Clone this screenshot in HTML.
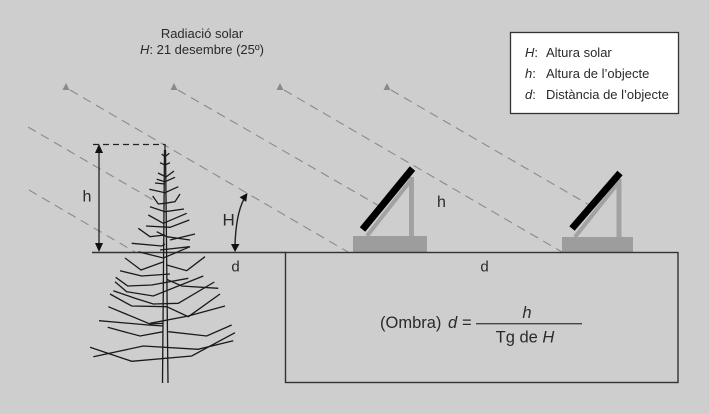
<!DOCTYPE html>
<html><head><meta charset="utf-8"><style>
html,body{margin:0;padding:0;background:#cecece;}
svg{display:block;}
text{font-family:"Liberation Sans",Arial,sans-serif;fill:#2a2a2a;}
</style></head><body>
<svg width="709" height="414" viewBox="0 0 709 414" xmlns="http://www.w3.org/2000/svg">
<rect x="0" y="0" width="709" height="414" fill="#cecece"/>

<!-- title -->
<text x="202" y="38" font-size="13" text-anchor="middle">Radiació solar</text>
<text x="202" y="54" font-size="13" text-anchor="middle"><tspan font-style="italic">H</tspan>: 21 desembre (25º)</text>

<!-- legend -->
<rect x="510.5" y="32.5" width="168" height="81" fill="#ffffff" stroke="#333" stroke-width="1.3"/>
<text x="525" y="57" font-size="13"><tspan font-style="italic">H</tspan>:</text>
<text x="546" y="57" font-size="13">Altura solar</text>
<text x="525" y="78" font-size="13"><tspan font-style="italic">h</tspan>:</text>
<text x="546" y="78" font-size="13">Altura de l’objecte</text>
<text x="525" y="99" font-size="13"><tspan font-style="italic">d</tspan>:</text>
<text x="546" y="99" font-size="13">Distància de l’objecte</text>

<!-- sun rays -->
<g fill="#8a8a8a">
<polygon points="66,83 62.5,90 69.5,90"/>
<polygon points="174,83 170.5,90 177.5,90"/>
<polygon points="280,83 276.5,90 283.5,90"/>
<polygon points="387,83 383.5,90 390.5,90"/>
</g>
<g stroke="#8a8a8a" stroke-width="1.1" stroke-dasharray="9 6" fill="none">
<line x1="70" y1="90" x2="348" y2="252"/>
<line x1="178" y1="90" x2="381" y2="207"/>
<line x1="284" y1="90" x2="562" y2="252"/>
<line x1="391" y1="90" x2="591" y2="206"/>
<line x1="28" y1="127" x2="155" y2="201"/>
<line x1="29" y1="190" x2="135" y2="252"/>
</g>

<!-- panel 1 -->
<rect x="353" y="236" width="74" height="16" fill="#9d9d9d"/>
<line x1="411.5" y1="177" x2="411.5" y2="236" stroke="#a2a2a2" stroke-width="5"/>
<line x1="367" y1="236" x2="411" y2="180" stroke="#a2a2a2" stroke-width="4"/>
<line x1="362.5" y1="229.5" x2="412.5" y2="168.5" stroke="#000" stroke-width="7"/>

<!-- panel 2 -->
<rect x="562" y="237" width="71" height="15" fill="#9d9d9d"/>
<line x1="619" y1="179" x2="619" y2="237" stroke="#a2a2a2" stroke-width="5"/>
<line x1="575" y1="237" x2="618" y2="183" stroke="#a2a2a2" stroke-width="4"/>
<line x1="572" y1="228.5" x2="620" y2="173" stroke="#000" stroke-width="7"/>

<text x="437" y="207" font-size="16">h</text>

<!-- ground & shadow box -->
<line x1="92" y1="252.5" x2="286" y2="252.5" stroke="#333" stroke-width="1.4"/>
<rect x="285.5" y="252.5" width="392.5" height="130" fill="none" stroke="#333" stroke-width="1.4"/>

<text x="235.5" y="271.5" font-size="15" text-anchor="middle">d</text>
<text x="484.5" y="271.5" font-size="15" text-anchor="middle">d</text>

<!-- formula -->
<text x="380" y="328" font-size="16.5">(Ombra)</text>
<text x="448" y="328" font-size="16.5" font-style="italic">d</text>
<text x="462" y="328" font-size="16.5">=</text>
<line x1="476" y1="323.7" x2="582" y2="323.7" stroke="#444" stroke-width="1.3"/>
<text x="527" y="318" font-size="16.5" font-style="italic" text-anchor="middle">h</text>
<text x="525" y="342.7" font-size="16.5" text-anchor="middle">Tg de <tspan font-style="italic">H</tspan></text>

<!-- h dimension -->
<line x1="93" y1="144.5" x2="165" y2="144.5" stroke="#222" stroke-width="1.3" stroke-dasharray="6 4"/>
<line x1="165" y1="144" x2="165" y2="152" stroke="#222" stroke-width="1.3"/>
<line x1="99" y1="150" x2="99" y2="246" stroke="#222" stroke-width="1.3"/>
<polygon points="99,144 95,153 103,153" fill="#111"/>
<polygon points="99,252 95,243 103,243" fill="#111"/>
<text x="82.5" y="201.7" font-size="16">h</text>

<!-- H angle arc -->
<path d="M235,245 Q236,214 244,199" fill="none" stroke="#222" stroke-width="1.4"/>
<polygon points="235,252 231,244 239.5,244" fill="#111"/>
<polygon points="247.5,193 246.2,201.9 239.6,197.3" fill="#111"/>
<text x="222.5" y="225.7" font-size="17">H</text>

<!-- tree -->
<g stroke="#1a1a1a" stroke-width="1.3" fill="none" stroke-linejoin="miter">
<line x1="164.5" y1="150" x2="162.5" y2="383"/>
<line x1="165.5" y1="150" x2="168" y2="383"/>
<polyline points="161.7,154 165,156.7 169.3,153.3"/>
<polyline points="160,162.7 165,165 170,162.7"/>
<polyline points="158,173 166,177 174,171"/>
<polyline points="156.7,179.3 165,181.7 175,177.3"/>
<polyline points="155,183 165,184"/>
<polyline points="149.3,189.3 165,192.7 178.3,186.7"/>
<polyline points="152.7,196 158.3,204 165,203.3 175,201.7 180,194"/>
<polyline points="150,206.7 165,211.7 184,209"/>
<polyline points="148.3,215 163.3,223.3 186.7,213.3"/>
<polyline points="146,226 170,227.3 189.3,220"/>
<polyline points="138.3,228.3 150,236.7 165,235"/>
<polyline points="156.7,231.7 166.7,236.7 190,240"/>
<polyline points="170,240 195,234"/>
<polyline points="131.7,243.3 161.7,246 165,244"/>
<polyline points="160,250 190,246.7"/>
<polyline points="138.3,251.7 163.3,258 190,246.7"/>
<polyline points="125,258 141,270 163,262"/>
<polyline points="120,270.7 141.7,276 170,274"/>
<polyline points="166.7,265 186.7,270.7 205,256.7"/>
<polyline points="115.7,277.3 127.7,286 151.7,285 188.3,278.3"/>
<polyline points="115,281.7 126.7,291.7 153.3,296 203.3,276"/>
<polyline points="166.7,279.3 181.7,286 218.3,288.3"/>
<polyline points="113.3,290.7 135,298.3 153.3,304 178.3,303.3 214.3,282"/>
<polyline points="110,294 131.7,306 166.7,306.7 188.3,316.7 220,294"/>
<polyline points="108.3,306.7 150,324 163.3,323.3"/>
<polyline points="150,323.3 188.3,316 225,306"/>
<polyline points="99,320.7 148.3,325 163.3,326"/>
<polyline points="107.7,327.3 140,336 163.3,331.7"/>
<polyline points="168.3,331.7 206.7,336 231.7,325"/>
<polyline points="90,347.3 131.7,361.3 191.7,356 235,332.7"/>
<polyline points="93.3,356.7 143.3,346 198,349.3 233.3,340.7"/>
</g>
</svg>
</body></html>
